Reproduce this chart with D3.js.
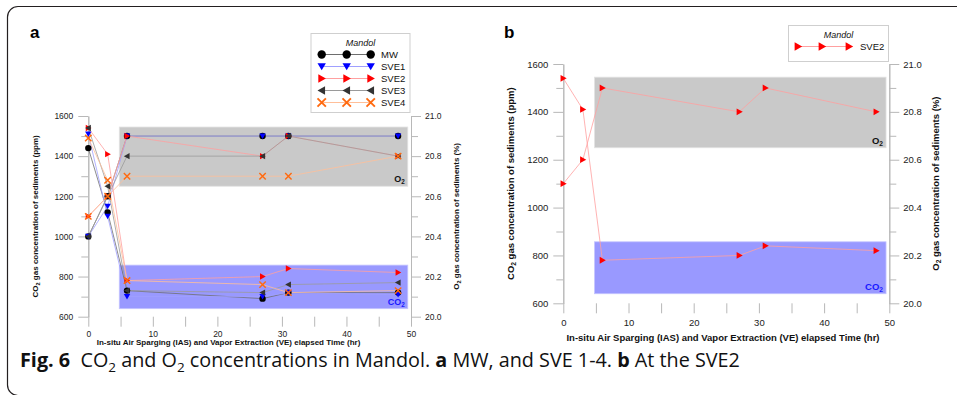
<!DOCTYPE html>
<html>
<head>
<meta charset="utf-8">
<script src="https://cdn.jsdelivr.net/npm/d3@7"></script>
<style>
body { margin: 0; background: #fff; }
svg { display: block; font-family: "Liberation Sans", Arial, sans-serif; }
</style>
</head>
<body>
<script>
// elapsed time of each measurement (hr)
var hours = [0, 3, 6, 27, 31, 48]
var sensors = ['MW', 'SVE1', 'SVE2', 'SVE3', 'SVE4']

// CO2 of sediments (ppm)
var co2MW   = [1440, 1120, 730, 690, 720, 720]
var co2SVE1 = [1510, 1100, 700, 700, 720, 710]
var co2SVE2 = [1540, 1410, 780, 800, 840, 820]
var co2SVE3 = [1540, 1250, 730, 720, 760, 770]
var co2SVE4 = [1490, 1280, 780, 760, 720, 730]

// O2 of sediments (%)
var o2MW   = [20.4, 20.6, 20.9, 20.9, 20.9, 20.9]
var o2SVE1 = [20.4, 20.55, 20.9, 20.9, 20.9, 20.9]
var o2SVE2 = [20.5, 20.6, 20.9, 20.8, 20.9, 20.8]
var o2SVE3 = [20.4, 20.6, 20.8, 20.8, 20.9, 20.8]
var o2SVE4 = [20.5, 20.6, 20.7, 20.7, 20.7, 20.8]

// axes
var xTicks = [0, 10, 20, 30, 40, 50]
var co2Ticks = [600, 800, 1000, 1200, 1400, 1600]
var o2Ticks = [20.0, 20.2, 20.4, 20.6, 20.8, 21.0]

// shaded O2 / CO2 bands (hr, ppm)
var bandHours = [4.8, 49.5]
var o2Band = [1250, 1545]
var co2Band = [640, 857]

var co2Vals = [co2MW, co2SVE1, co2SVE2, co2SVE3, co2SVE4]
var o2Vals = [o2MW, o2SVE1, o2SVE2, o2SVE3, o2SVE4]

var styles = {
	MW:   {shape: 'circle', color: '#000000', line: '#6e6e6e'},
	SVE1: {shape: 'down',   color: '#0000ff', line: '#a0a0ff'},
	SVE2: {shape: 'right',  color: '#ff0000', line: '#ffa0a0'},
	SVE3: {shape: 'left',   color: '#333333', line: '#9a9a9a'},
	SVE4: {shape: 'x',      color: '#ff6a10', line: '#ffbf99'}
}

var W = 957, H = 395
var svg = d3.select('body').append('svg').attr('width', W).attr('height', H)

// outer frame of the figure
svg.append('path')
	.attr('d', 'M960,6.5 H18 A10.5,10.5 0 0 0 7.5,17 V385 A10.5,10.5 0 0 0 18,395.5 H960')
	.attr('fill', 'none').attr('stroke', '#231f20').attr('stroke-width', 1.2)

function marker(g, shape, s, color) {
	if (shape == 'circle') {
		g.append('circle').attr('r', s).attr('fill', color)
	} else if (shape == 'x') {
		g.append('path').attr('d', 'M' + -s + ',' + -s + 'L' + s + ',' + s + 'M' + -s + ',' + s + 'L' + s + ',' + -s)
			.attr('stroke', color).attr('stroke-width', s * 0.45).attr('fill', 'none')
	} else {
		var p
		if (shape == 'down') p = [[-s, -s * 0.8], [s, -s * 0.8], [0, s * 0.9]]
		if (shape == 'right') p = [[-s * 0.8, -s], [s, 0], [-s * 0.8, s]]
		if (shape == 'left') p = [[s * 0.8, -s], [-s, 0], [s * 0.8, s]]
		g.append('path').attr('d', 'M' + p.join('L') + 'Z').attr('fill', color)
	}
}

function subText(t, parts) {
	// parts: [text, isSub, backUp]
	parts.forEach(function (p) {
		var ts = t.append('tspan').text(p[0])
		if (p[1]) ts.attr('font-size', '0.7em').attr('dy', '0.3em')
		else if (p[2]) ts.attr('dy', '-0.21em')
	})
}

function drawPanel(p, series) {
	var x = d3.scaleLinear().domain([0, 50]).range([p.x0, p.x1])
	var y = d3.scaleLinear().domain([600, 1600]).range([p.y1, p.y0])
	var y2 = d3.scaleLinear().domain([20, 21]).range([p.y1, p.y0])
	var g = svg.append('g')

	// bands
	g.append('rect').attr('x', x(bandHours[0])).attr('width', x(bandHours[1]) - x(bandHours[0]))
		.attr('y', y(o2Band[1])).attr('height', y(o2Band[0]) - y(o2Band[1]))
		.attr('fill', '#c9c9c9').attr('stroke', '#e2e2e2').attr('stroke-width', 0.8)
	g.append('rect').attr('x', x(bandHours[0])).attr('width', x(bandHours[1]) - x(bandHours[0]))
		.attr('y', y(co2Band[1])).attr('height', y(co2Band[0]) - y(co2Band[1]))
		.attr('fill', '#9999ff').attr('stroke', '#c4c4ff').attr('stroke-width', 0.8)
	var t1 = g.append('text').attr('x', x(bandHours[1]) - 3).attr('y', y(o2Band[0]) - 4)
		.attr('text-anchor', 'end').attr('font-size', p.band).attr('font-weight', 'bold').attr('fill', '#111')
	subText(t1, [['O'], ['2', true]])
	var t2 = g.append('text').attr('x', x(bandHours[1]) - 3).attr('y', y(co2Band[0]) - 4)
		.attr('text-anchor', 'end').attr('font-size', p.band).attr('font-weight', 'bold').attr('fill', '#1a1aff')
	subText(t2, [['CO'], ['2', true]])

	// axes
	var ax = function (sel) {
		sel.selectAll('path.domain').attr('stroke', '#b8b8b8')
		sel.selectAll('line').attr('stroke', '#b8b8b8')
		sel.selectAll('text').attr('fill', '#222').attr('font-size', p.tick)
	}
	g.append('g').attr('transform', 'translate(' + p.x0 + ',0)')
		.call(d3.axisLeft(y).tickValues(d3.range(700, 1600, 200)).tickSize(7).tickFormat('').tickSizeOuter(0))
		.call(ax)
	g.append('g').attr('transform', 'translate(' + p.x0 + ',0)')
		.call(d3.axisLeft(y).tickValues(co2Ticks).tickSize(10).tickPadding(5).tickFormat(d3.format('d')).tickSizeOuter(0))
		.call(ax)
	g.append('g').attr('transform', 'translate(' + p.x1 + ',0)')
		.call(d3.axisRight(y2).tickValues(d3.range(20.1, 21, 0.2)).tickSize(7).tickFormat('').tickSizeOuter(0))
		.call(ax)
	g.append('g').attr('transform', 'translate(' + p.x1 + ',0)')
		.call(d3.axisRight(y2).tickValues(o2Ticks).tickSize(10).tickPadding(4).tickFormat(d3.format('.1f')).tickSizeOuter(0))
		.call(ax)
	g.append('g').attr('transform', 'translate(0,' + p.y1 + ')')
		.call(d3.axisBottom(x).tickValues(d3.range(0, 51, 5)).tickSize(10).tickPadding(p.xpad)
			.tickFormat(function (d) { return xTicks.indexOf(d) >= 0 ? d : '' }))
		.call(ax)
		.select('path.domain').remove()

	// axis titles
	var lt = g.append('text').attr('transform', 'translate(' + p.lt + ',' + (p.y0 + p.y1) / 2 + ') rotate(-90)')
		.attr('text-anchor', 'middle').attr('font-size', p.title).attr('font-weight', 'bold').attr('fill', '#111')
	subText(lt, [['CO'], ['2', true], [' gas concentration of sediments (ppm)', false, true]])
	var rt = g.append('text').attr('transform', 'translate(' + p.rt + ',' + (p.y0 + p.y1) / 2 + ') rotate(-90)')
		.attr('text-anchor', 'middle').attr('font-size', p.title).attr('font-weight', 'bold').attr('fill', '#111')
	subText(rt, [['O'], ['2', true], [' gas concentration of sediments (%)', false, true]])
	g.append('text').attr('x', p.xt).attr('y', p.y1 + p.xtDy)
		.attr('text-anchor', 'middle').attr('font-size', p.title).attr('font-weight', 'bold').attr('fill', '#111')
		.text('In-situ Air Sparging (IAS) and Vapor Extraction (VE) elapsed Time (hr)')

	// lines
	var lineL = d3.line().x(function (d, i) { return x(hours[i]) }).y(function (d) { return y(d) })
	var lineR = d3.line().x(function (d, i) { return x(hours[i]) }).y(function (d) { return y2(d) })
	series.forEach(function (s) {
		var st = styles[s.name]
		g.append('path').attr('d', lineL(s.co2)).attr('fill', 'none').attr('stroke', st.line).attr('stroke-width', 0.8)
		g.append('path').attr('d', lineR(s.o2)).attr('fill', 'none').attr('stroke', st.line).attr('stroke-width', 0.8)
	})
	// markers
	series.forEach(function (s) {
		var st = styles[s.name]
		s.co2.forEach(function (v, i) {
			marker(g.append('g').attr('transform', 'translate(' + x(hours[i]) + ',' + y(v) + ')'), st.shape, p.ms, st.color)
		})
		s.o2.forEach(function (v, i) {
			marker(g.append('g').attr('transform', 'translate(' + x(hours[i]) + ',' + y2(v) + ')'), st.shape, p.ms, st.color)
		})
	})

	// legend
	var L = p.legend
	var lg = g.append('g')
	lg.append('rect').attr('x', L.x).attr('y', L.y).attr('width', L.w).attr('height', L.h)
		.attr('fill', '#fff').attr('stroke', '#cfcfcf').attr('stroke-width', 1)
	lg.append('text').attr('x', L.x + L.w / 2).attr('y', L.y + 12).attr('text-anchor', 'middle')
		.attr('font-size', 9).attr('font-style', 'italic').attr('fill', '#111').text('Mandol')
	series.forEach(function (s, k) {
		var st = styles[s.name]
		var ry = L.y + 21 + k * 12
		lg.append('line').attr('x1', L.mx[0]).attr('x2', L.mx[2]).attr('y1', ry).attr('y2', ry)
			.attr('stroke', st.line).attr('stroke-width', 1)
		L.mx.forEach(function (mx) {
			marker(lg.append('g').attr('transform', 'translate(' + mx + ',' + ry + ')'), st.shape, 4.2, st.color)
		})
		lg.append('text').attr('x', L.tx).attr('y', ry + 3.5).attr('font-size', 9.5).attr('fill', '#111').text(s.name)
	})
}

var allSeries = sensors.map(function (n, i) { return {name: n, co2: co2Vals[i], o2: o2Vals[i]} })

drawPanel({x0: 88.3, x1: 411, y0: 116, y1: 316.7, tick: 8.5, title: 8, band: 9, ms: 3.2, xpad: 4,
	lt: 38, rt: 459, xt: 228.5, xtDy: 28, legend: {x: 311, y: 33.5, w: 99, h: 79, mx: [321.7, 346.7, 370.7], tx: 381}},
	allSeries)
drawPanel({x0: 563.3, x1: 889.3, y0: 64, y1: 303.3, tick: 9.5, title: 9.5, band: 9.5, ms: 3.4, xpad: 6,
	lt: 514, rt: 939, xt: 723, xtDy: 38, legend: {x: 788.5, y: 25.5, w: 100, h: 36, mx: [798, 822, 849], tx: 860}},
	allSeries.filter(function (s) { return s.name == 'SVE2' }))

// panel letters
svg.append('text').attr('x', 30).attr('y', 38).attr('font-size', 17).attr('font-weight', 'bold').text('a')
svg.append('text').attr('x', 504).attr('y', 38).attr('font-size', 17).attr('font-weight', 'bold').text('b')

// caption
var cap = svg.append('text').attr('x', 20).attr('y', 367).attr('font-family', '"Open Sans", sans-serif')
	.attr('font-size', 19.8).attr('fill', '#111')
var capParts = [['Fig. 6', 'b'], ['\u00a0 CO'], ['2', 's'], [' and O', 'u'], ['2', 's'], [' concentrations in Mandol. ', 'u'],
	['a', 'b'], [' MW, and SVE 1-4. '], ['b', 'b'], [' At the SVE2']]
capParts.forEach(function (c) {
	var ts = cap.append('tspan').text(c[0])
	if (c[1] == 'b') ts.attr('font-weight', 'bold')
	if (c[1] == 's') ts.attr('font-size', 13.5).attr('dy', 5)
	if (c[1] == 'u') ts.attr('dy', -5)
})
</script>
</body>
</html>
